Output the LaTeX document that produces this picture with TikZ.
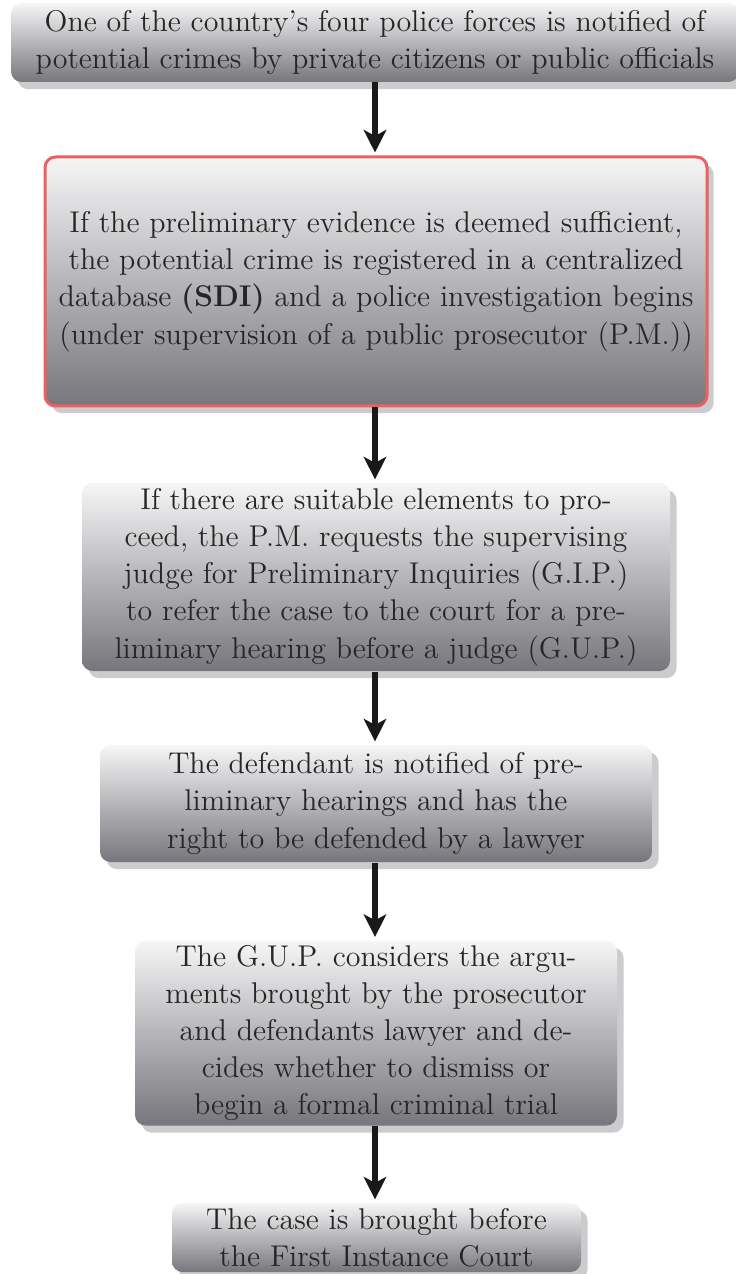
\documentclass[tikz,border=0pt]{standalone}
\usepackage{fontspec}
\setmainfont{lmroman12-regular.otf}[BoldFont=lmroman12-bold.otf]
\usepackage{tikz}
\usetikzlibrary{shadows,arrows.meta}

\definecolor{boxtop}{RGB}{246,246,247}
\definecolor{boxbottom}{RGB}{118,118,124}
\definecolor{boxshadow}{RGB}{204,204,206}
\definecolor{redline}{RGB}{236,96,96}

\begin{document}
\begin{tikzpicture}[x=0.3333pt, y=-0.3333pt,
		stepbox/.style={rounded corners=3.5pt, top color=boxtop, bottom color=boxbottom,
			align=center, inner sep=0pt, text=black!85, font=\fontsize{10}{12.4}\selectfont,
			drop shadow={shadow xshift=2.2pt, shadow yshift=-2.4pt, fill=boxshadow, opacity=1}},
		flow/.style={line width=1.7pt, black!90, -{Stealth[length=7.5pt, width=7.5pt, inset=2pt]}, shorten >=1pt}]
			\useasboundingbox (0,0) rectangle (735,1274);

			% Notification of the potential crime
			\node[stepbox, minimum width=728*0.3333pt, minimum height=79*0.3333pt] (notice) at (375, 42.5)
				{One of the country's four police forces is notified of\\ potential crimes by private citizens or public officials};

			% Registration in the database
			\node[stepbox, draw=redline, line width=1pt, minimum width=662*0.3333pt, minimum height=249*0.3333pt] (register) at (376, 281.5)
				{If the preliminary evidence is deemed sufficient,\\ the potential crime is registered in a centralized\\ database \textbf{(SDI)} and a police investigation begins\\ (under supervision of a public prosecutor (P.M.))};

			% Request to the G.I.P.
			\node[stepbox, minimum width=588*0.3333pt, minimum height=188*0.3333pt] (request) at (376, 577)
				{If there are suitable elements to pro-\\ ceed, the P.M. requests the supervising\\ judge for Preliminary Inquiries (G.I.P.)\\ to refer the case to the court for a pre-\\ liminary hearing before a judge (G.U.P.)};

			% Defendant is notified
			\node[stepbox, minimum width=552*0.3333pt, minimum height=117*0.3333pt] (defend) at (376, 803.5)
				{The defendant is notified of pre-\\ liminary hearings and has the\\ right to be defended by a lawyer};

			% G.U.P. decision
			\node[stepbox, minimum width=482*0.3333pt, minimum height=185*0.3333pt] (decide) at (376, 1033)
				{The G.U.P. considers the argu-\\ ments brought by the prosecutor\\ and defendants lawyer and de-\\ cides whether to dismiss or\\ begin a formal criminal trial};

			% First instance
			\node[stepbox, minimum width=409*0.3333pt, minimum height=69*0.3333pt] (court) at (376.5, 1237.5)
				{The case is brought before\\ the First Instance Court};

			% Arrows between the steps
			\draw[flow] (375, 82) -- (register.north -| 375, 0);
			\draw[flow] (register.south -| 375, 0) -- (request.north -| 375, 0);
			\draw[flow] (request.south -| 375, 0) -- (defend.north -| 375, 0);
			\draw[flow] (defend.south -| 375, 0) -- (decide.north -| 375, 0);
			\draw[flow] (decide.south -| 375, 0) -- (court.north -| 375, 0);
		\end{tikzpicture}
\end{document}
